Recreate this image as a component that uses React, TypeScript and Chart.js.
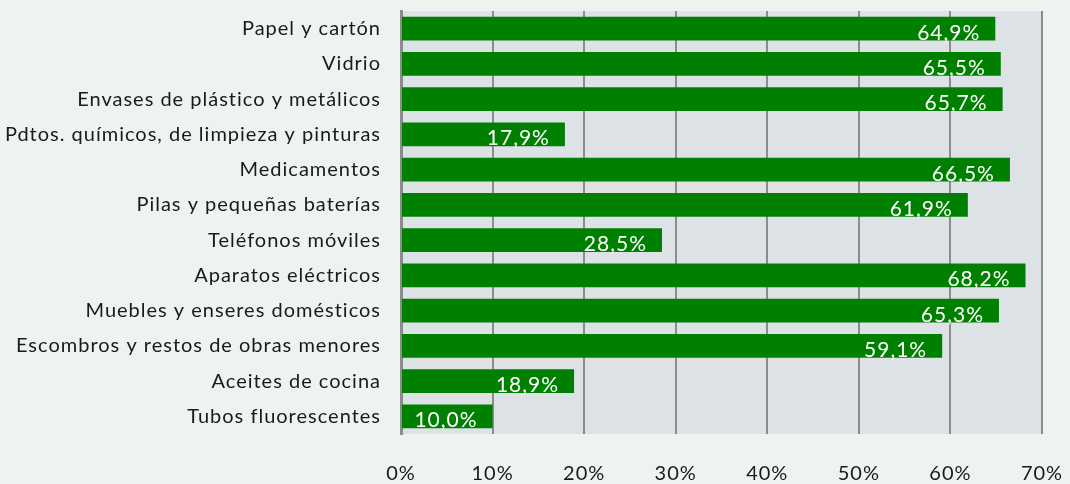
import React, { useEffect, useRef } from "react";
import { Chart, registerables } from "chart.js";

Chart.register(...registerables);

const categories: string[] = [
  "Papel y cartón",
  "Vidrio",
  "Envases de plástico y metálicos",
  "Pdtos. químicos, de limpieza y pinturas",
  "Medicamentos",
  "Pilas y pequeñas baterías",
  "Teléfonos móviles",
  "Aparatos eléctricos",
  "Muebles y enseres domésticos",
  "Escombros y restos de obras menores",
  "Aceites de cocina",
  "Tubos fluorescentes",
];

const values: number[] = [64.9, 65.5, 65.7, 17.9, 66.5, 61.9, 28.5, 68.2, 65.3, 59.1, 18.9, 10.0];

const xTicks: number[] = [0, 10, 20, 30, 40, 50, 60, 70];

const FONT = "Lato";

const spacingPlugin = {
  id: "spacing",
  beforeDraw(chart: any) {
    const { ctx, chartArea } = chart;
    ctx.save();
    ctx.fillStyle = "#dce2e6";
    ctx.fillRect(chartArea.left, chartArea.top, chartArea.right - chartArea.left, chartArea.bottom - chartArea.top);
    ctx.restore();
    (ctx as any).letterSpacing = "1px";
  },
  afterDatasetsDraw(chart: any) {
    const { ctx } = chart;
    const meta = chart.getDatasetMeta(0);
    ctx.save();
    (ctx as any).letterSpacing = "1px";
    ctx.fillStyle = "#ffffff";
    ctx.font = `21px ${FONT}`;
    ctx.textAlign = "right";
    ctx.textBaseline = "alphabetic";
    meta.data.forEach((bar: any, i: number) => {
      const v = values[i];
      const txt = v.toFixed(1).replace(".", ",") + "%";
      ctx.fillText(txt, bar.x - 15, bar.y + bar.height / 2 - 1);
    });
    ctx.restore();
  },
  afterDraw(chart: any) {
    (chart.ctx as any).letterSpacing = "0px";
  },
};

export default function App() {
  const ref = useRef<HTMLCanvasElement | null>(null);

  useEffect(() => {
    document.body.style.margin = "0";
    document.body.style.background = "#edf4f0";
    if (!ref.current) return;
    const chart = new Chart(ref.current, {
      type: "bar",
      data: {
        labels: categories,
        datasets: [
          {
            data: values,
            backgroundColor: "#008000",
            borderWidth: 0,
            categoryPercentage: 0.68,
            barPercentage: 1,
          },
        ],
      },
      options: {
        indexAxis: "y",
        animation: false,
        responsive: false,
        maintainAspectRatio: false,
        layout: { padding: { top: 11, right: 28, left: 0, bottom: 0 } },
        plugins: {
          legend: { display: false },
          tooltip: { enabled: false },
        },
        scales: {
          x: {
            min: 0,
            max: 70,
            afterBuildTicks: (scale: any) => {
              scale.ticks = xTicks.map((v) => ({ value: v }));
            },
            ticks: {
              callback: (v: any) => v + "%",
              color: "#1a1a1a",
              font: { family: FONT, size: 20 },
              padding: 28,
            },
            grid: {
              color: "#8c8c8c",
              lineWidth: 2,
              drawTicks: false,
            },
            border: { display: false },
            afterFit: (scale: any) => {
              scale.height = 50;
              scale.paddingLeft = 0;
              scale.paddingRight = 0;
            },
          },
          y: {
            ticks: {
              color: "#1a1a1a",
              font: { family: FONT, size: 20 },
              padding: 20,
              autoSkip: false,
            },
            grid: { display: false, drawTicks: false },
            border: { display: true, color: "#8c8c8c", width: 3 },
            afterFit: (scale: any) => {
              scale.width = 401;
              scale.paddingTop = 0;
              scale.paddingBottom = 0;
            },
          },
        },
      },
      plugins: [spacingPlugin],
    });
    return () => chart.destroy();
  }, []);

  return (
    <div style={{ position: "fixed", left: 0, top: 0, width: 1070, height: 484, background: "#edf4f0" }}>
      <canvas ref={ref} width={1070} height={484} style={{ width: 1070, height: 484, display: "block" }} />
    </div>
  );
}
